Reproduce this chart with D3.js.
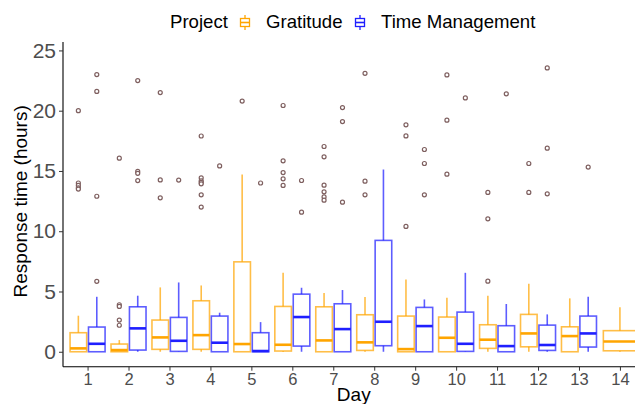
<!DOCTYPE html>
<html>
  <head>
    <meta charset="utf-8">
    <script src="https://d3js.org/d3.v7.min.js"></script>
    <style type="text/css">
      body { margin: 0; background: #ffffff; }
      svg text { font-family: "Liberation Sans", Arial, sans-serif; }
    </style>
  </head>
<body>
  <script type="text/javascript">
    // Days on the x axis and the two projects
    var days = [1, 2, 3, 4, 5, 6, 7, 8, 9, 10, 11, 12, 13, 14];
    var projects = ["Gratitude", "Time Management"];
    var yTicks = [0, 5, 10, 15, 20, 25];

    // box stats per day: [lower whisker, q1, median, q3, upper whisker]
    var gratitudeStats = [
      [0, 0, 0.28, 1.58, 2.99], [0, 0, 0.14, 0.64, 0.97], [0, 0.2, 1.19, 2.63, 5.34],
      [0, 0.2, 1.38, 4.23, 5.5], [0, 0, 0.64, 7.46, 14.7], [0, 0.06, 0.58, 3.76, 6.55],
      [0, 0, 0.94, 3.73, 4.87], [0, 0.11, 0.78, 3.07, 4.54], [0, 0, 0.22, 2.96, 6.0],
      [0, 0, 1.16, 2.88, 4.48], [0, 0.28, 1.0, 2.24, 4.65], [0, 0.41, 1.52, 3.1, 5.64],
      [0, 0, 1.3, 2.07, 4.43], [0, 0.08, 0.85, 1.75, 3.69]
    ];
    var gratitudeOutliers = [
      [20.0, 14.0, 13.8, 13.6, 13.5], [16.06, 3.9, 3.76, 2.63, 2.2], [21.5, 14.26, 12.77],
      [17.9, 14.43, 14.18, 14.05, 13.93, 13.02, 12.0], [20.8], [20.43, 15.84, 14.87, 14.35, 13.8],
      [17.03, 16.17, 13.82, 13.27, 12.85, 12.58], [23.1, 14.15, 13.02], [18.83, 17.91, 10.4],
      [22.97, 19.21, 14.73], [13.22, 11.03, 5.86], [15.62, 13.22], [], []
    ];
    var timeStats = [
      [0, 0, 0.66, 2.05, 4.56], [0, 0.14, 1.94, 3.73, 4.65], [0, 0.03, 0.91, 2.85, 5.75],
      [0, 0, 0.75, 2.96, 3.24], [0, 0, 0.06, 1.58, 2.46], [0, 0.47, 2.88, 4.78, 5.31],
      [0, 0, 1.88, 3.98, 5.12], [0, 0.5, 2.49, 9.24, 15.12], [0, 0, 2.13, 3.68, 4.34],
      [0, 0.03, 0.66, 3.29, 6.55], [0, 0, 0.47, 2.16, 3.96], [0, 0.11, 0.56, 2.21, 3.1],
      [0, 0.39, 1.52, 2.96, 4.56], null
    ];
    var timeOutliers = [
      [23.0, 21.6, 12.9, 5.84], [22.5, 14.96, 14.8, 14.2], [14.24], [15.42], [14.0],
      [14.21, 11.58], [20.26, 19.1, 12.41], [], [16.78, 15.62, 13.02], [21.06], [21.4],
      [23.55, 16.89, 13.1], [15.32], []
    ];

    var colors = {"Gratitude": "#FFA500", "Time Management": "#1F1FFF"};

    var width = 635, height = 404;
    var mLeft = 63, mRight = 644.5, mTop = 42, mBottom = 366.7;

    var svg = d3.select("body").append("svg")
      .attr("width", width)
      .attr("height", height);

    var x = d3.scaleLinear().domain([0.4, 14.6]).range([mLeft, mRight]);
    var y = d3.scaleLinear().domain([-1.24, 25.7]).range([mBottom, mTop]);
    var step = x(2) - x(1);

    // build one record per box (dodged when a day has both projects)
    var boxes = [];
    days.forEach(function(d, i) {
      var groups = [];
      if (gratitudeStats[i]) groups.push({p: "Gratitude", s: gratitudeStats[i], o: gratitudeOutliers[i]});
      if (timeStats[i]) groups.push({p: "Time Management", s: timeStats[i], o: timeOutliers[i]});
      groups.forEach(function(g, j) {
        var n = groups.length;
        var slot = 0.9 * step / n;
        var cx = x(d) - 0.45 * step + slot * (j + 0.5);
        boxes.push({day: d, project: g.p, stats: g.s, outliers: g.o, cx: cx, w: slot * 0.9});
      });
    });

    var plot = svg.append("g");
    var box = plot.selectAll("g.box").data(boxes).enter().append("g").attr("class", "box");
    var lw = 1.6, lop = 0.72;

    // whiskers
    box.append("line")
      .attr("x1", function(d) { return d.cx; }).attr("x2", function(d) { return d.cx; })
      .attr("y1", function(d) { return y(d.stats[3]); }).attr("y2", function(d) { return y(d.stats[4]); })
      .attr("stroke", function(d) { return colors[d.project]; })
      .attr("stroke-width", lw).attr("stroke-opacity", lop);
    box.append("line")
      .attr("x1", function(d) { return d.cx; }).attr("x2", function(d) { return d.cx; })
      .attr("y1", function(d) { return y(d.stats[0]); }).attr("y2", function(d) { return y(d.stats[1]); })
      .attr("stroke", function(d) { return colors[d.project]; })
      .attr("stroke-width", lw).attr("stroke-opacity", lop);

    // box
    box.append("rect")
      .attr("x", function(d) { return d.cx - d.w / 2; })
      .attr("width", function(d) { return d.w; })
      .attr("y", function(d) { return y(d.stats[3]); })
      .attr("height", function(d) { return y(d.stats[1]) - y(d.stats[3]); })
      .attr("fill", "none")
      .attr("stroke", function(d) { return colors[d.project]; })
      .attr("stroke-width", lw).attr("stroke-opacity", lop);

    // median
    box.append("line")
      .attr("x1", function(d) { return d.cx - d.w / 2; })
      .attr("x2", function(d) { return d.cx + d.w / 2; })
      .attr("y1", function(d) { return y(d.stats[2]); }).attr("y2", function(d) { return y(d.stats[2]); })
      .attr("stroke", function(d) { return colors[d.project]; })
      .attr("stroke-width", 2.6);

    // outliers
    box.selectAll("circle").data(function(d) {
        return d.outliers.map(function(v) { return {cx: d.cx, v: v}; });
      }).enter().append("circle")
      .attr("cx", function(d) { return d.cx; })
      .attr("cy", function(d) { return y(d.v); })
      .attr("r", 2)
      .attr("fill", "#ffffff")
      .attr("stroke", "#7e5f5f")
      .attr("stroke-width", 1.2);

    // axes
    var xAxis = d3.axisBottom(x).tickValues(days).tickSize(4).tickPadding(3).tickFormat(d3.format("d"));
    var gx = svg.append("g").attr("transform", "translate(0," + mBottom + ")").call(xAxis);
    gx.select(".domain").attr("d", "M" + mLeft + ",0H" + mRight).attr("stroke", "#000").attr("stroke-width", 1.1);
    gx.selectAll(".tick line").attr("stroke", "#333");
    gx.selectAll(".tick text").attr("fill", "#4d4d4d").style("font-size", "16.5px")
      .style("font-family", "Liberation Sans, Arial, sans-serif");

    var yAxis = d3.axisLeft(y).tickValues(yTicks).tickSize(4).tickPadding(3);
    var gy = svg.append("g").attr("transform", "translate(" + mLeft + ",0)").call(yAxis);
    gy.select(".domain").attr("d", "M0," + mBottom + "V" + mTop).attr("stroke", "#000").attr("stroke-width", 1.1);
    gy.selectAll(".tick line").attr("stroke", "#333");
    gy.selectAll(".tick text").attr("fill", "#4d4d4d").style("font-size", "21px")
      .style("font-family", "Liberation Sans, Arial, sans-serif");

    // axis titles
    svg.append("text")
      .attr("x", (mLeft + mRight) / 2).attr("y", 401)
      .attr("text-anchor", "middle").style("font-size", "19px").attr("fill", "#000")
      .text("Day");
    svg.append("text")
      .attr("transform", "translate(27," + ((mTop + mBottom) / 2 - 3) + ") rotate(-90)")
      .attr("text-anchor", "middle").style("font-size", "19px").attr("fill", "#000")
      .text("Response time (hours)");

    // legend
    var legend = svg.append("g");
    legend.append("text").attr("x", 170).attr("y", 28).style("font-size", "18.6px").text("Project");
    var legendItems = [
      {p: projects[0], kx: 245, tx: 266},
      {p: projects[1], kx: 360, tx: 381}
    ];
    var li = legend.selectAll("g.item").data(legendItems).enter().append("g").attr("class", "item");
    li.append("line")
      .attr("x1", function(d) { return d.kx; }).attr("x2", function(d) { return d.kx; })
      .attr("y1", 15).attr("y2", 30)
      .attr("stroke", function(d) { return colors[d.p]; }).attr("stroke-width", 1.3);
    li.append("rect")
      .attr("x", function(d) { return d.kx - 4.5; }).attr("y", 18.5)
      .attr("width", 9).attr("height", 8)
      .attr("fill", "#fff")
      .attr("stroke", function(d) { return colors[d.p]; }).attr("stroke-width", 1.3);
    li.append("line")
      .attr("x1", function(d) { return d.kx - 4.5; }).attr("x2", function(d) { return d.kx + 4.5; })
      .attr("y1", 22.5).attr("y2", 22.5)
      .attr("stroke", function(d) { return colors[d.p]; }).attr("stroke-width", 1.6);
    li.append("text")
      .attr("x", function(d) { return d.tx; }).attr("y", 28)
      .style("font-size", "18.6px")
      .text(function(d) { return d.p; });
  </script>
</body>
</html>
